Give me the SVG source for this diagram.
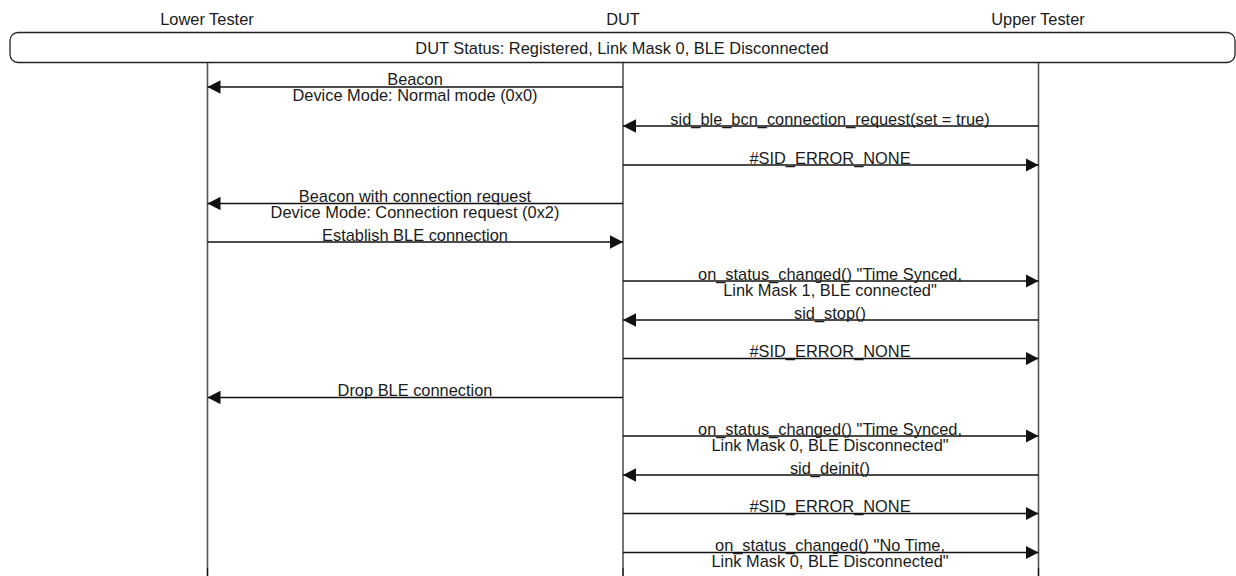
<svg xmlns="http://www.w3.org/2000/svg" width="1236" height="576" viewBox="0 0 1236 576">
  <style>
    text { font-family: "Liberation Sans", Arial, sans-serif; font-size: 16.4px; fill: #1a1a1a; text-anchor: middle; }
    .life { stroke: #555; stroke-width: 1.6; fill: none; }
    .life-end { stroke: #111; stroke-width: 1.6; fill: none; }
    .msg { stroke: #111; stroke-width: 1.3; fill: none; marker-end: url(#head); }
    .state { fill: #fff; stroke: #222; stroke-width: 1.3; }
  </style>
  <defs>
    <marker id="head" markerUnits="userSpaceOnUse" markerWidth="14" markerHeight="14" refX="13" refY="6.7" orient="auto">
      <path d="M0,0 L13,6.7 L0,13.4 Z" fill="#111"/>
    </marker>
  </defs>

  <!-- participants -->
  <g id="lower-tester">
    <text x="207" y="24.5">Lower Tester</text>
    <line class="life" x1="207.5" y1="63" x2="207.5" y2="568"/>
    <line class="life-end" x1="207.5" y1="568" x2="207.5" y2="576"/>
  </g>
  <g id="dut">
    <text x="623" y="24.5">DUT</text>
    <line class="life" x1="623" y1="63" x2="623" y2="568"/>
    <line class="life-end" x1="623" y1="568" x2="623" y2="576"/>
  </g>
  <g id="upper-tester">
    <text x="1038" y="24.5">Upper Tester</text>
    <line class="life" x1="1038.5" y1="63" x2="1038.5" y2="568"/>
    <line class="life-end" x1="1038.5" y1="568" x2="1038.5" y2="576"/>
  </g>

  <!-- shared state box -->
  <g id="dut-status">
    <rect class="state" x="10" y="32.5" width="1225" height="30" rx="8" ry="8"/>
    <text x="622" y="54">DUT Status: Registered, Link Mask 0, BLE Disconnected</text>
  </g>

  <!-- messages -->
  <g id="connectors">
    <line class="msg" x1="623" y1="87" x2="207.5" y2="87"/>
    <text x="415" y="85">Beacon</text>
    <text x="415" y="101">Device Mode: Normal mode (0x0)</text>

    <line class="msg" x1="1038.5" y1="126" x2="623" y2="126"/>
    <text x="830" y="124.5">sid_ble_bcn_connection_request(set = true)</text>

    <line class="msg" x1="623" y1="165" x2="1038.5" y2="165"/>
    <text x="830" y="163.5">#SID_ERROR_NONE</text>

    <line class="msg" x1="623" y1="203.5" x2="207.5" y2="203.5"/>
    <text x="415" y="201.5">Beacon with connection request</text>
    <text x="415" y="217.5">Device Mode: Connection request (0x2)</text>

    <line class="msg" x1="207.5" y1="242" x2="623" y2="242"/>
    <text x="415" y="240.5">Establish BLE connection</text>

    <line class="msg" x1="623" y1="281" x2="1038.5" y2="281"/>
    <text x="830" y="279.5">on_status_changed() "Time Synced,</text>
    <text x="830" y="295.5">Link Mask 1, BLE connected"</text>

    <line class="msg" x1="1038.5" y1="320" x2="623" y2="320"/>
    <text x="830" y="318.5">sid_stop()</text>

    <line class="msg" x1="623" y1="358.5" x2="1038.5" y2="358.5"/>
    <text x="830" y="357">#SID_ERROR_NONE</text>

    <line class="msg" x1="623" y1="397.5" x2="207.5" y2="397.5"/>
    <text x="415" y="396">Drop BLE connection</text>

    <line class="msg" x1="623" y1="436" x2="1038.5" y2="436"/>
    <text x="830" y="434.5">on_status_changed() "Time Synced,</text>
    <text x="830" y="450.5">Link Mask 0, BLE Disconnected"</text>

    <line class="msg" x1="1038.5" y1="475" x2="623" y2="475"/>
    <text x="830" y="473.5">sid_deinit()</text>

    <line class="msg" x1="623" y1="513.5" x2="1038.5" y2="513.5"/>
    <text x="830" y="512">#SID_ERROR_NONE</text>

    <line class="msg" x1="623" y1="552.5" x2="1038.5" y2="552.5"/>
    <text x="830" y="551">on_status_changed() "No Time,</text>
    <text x="830" y="567">Link Mask 0, BLE Disconnected"</text>
  </g>
</svg>
